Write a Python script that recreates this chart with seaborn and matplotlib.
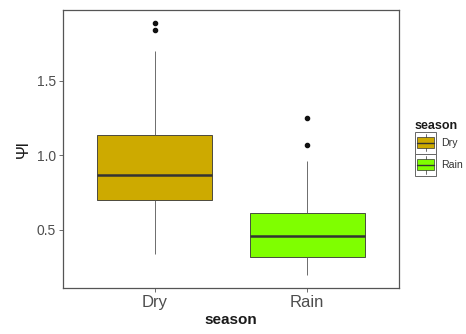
import matplotlib
matplotlib.use("Agg")
import matplotlib.pyplot as plt
from matplotlib.legend_handler import HandlerBase
from matplotlib.patches import Rectangle
from matplotlib.lines import Line2D
import seaborn as sns
import pandas as pd

# Water potential observations per season
seasons = ["Dry", "Rain"]
dry_psi = [0.34, 0.52, 0.63, 0.70, 0.76, 0.82, 0.866, 0.93, 1.04, 1.134, 1.697, 1.84, 1.89]
rain_psi = [0.196, 0.25, 0.29, 0.319, 0.37, 0.42, 0.462, 0.51, 0.57, 0.612, 0.96, 1.069, 1.253]
season_colors = {"Dry": "#CDAA00", "Rain": "#7FFF00"}
y_ticks = [0.5, 1.0, 1.5]

df = pd.DataFrame({
    "season": ["Dry"] * len(dry_psi) + ["Rain"] * len(rain_psi),
    "psi": dry_psi + rain_psi,
})

sns.set_style("white")
plt.rcParams["font.family"] = ["Liberation Sans", "DejaVu Sans"]

fig = plt.figure(figsize=(4.66, 3.34), dpi=100)
ax = fig.add_axes([0.135, 0.138, 0.721, 0.832])

edge = "#333333"
sns.boxplot(
    data=df, x="season", y="psi", hue="season", order=seasons,
    palette=season_colors, saturation=1, width=0.75, legend=False, ax=ax,
    linecolor=edge, linewidth=0.6,
    medianprops=dict(color=edge, linewidth=1.8),
    whiskerprops=dict(color="#555555", linewidth=0.6),
    capprops=dict(linewidth=0),
    flierprops=dict(marker="o", markersize=3.0, markerfacecolor="#111111",
                    markeredgecolor="#111111"),
)

ax.set_xlim(-0.6, 1.6)
ax.set_ylim(0.111, 1.975)
ax.set_yticks(y_ticks)
ax.set_yticklabels([f"{v:.1f}" for v in y_ticks])

for s in ax.spines.values():
    s.set_color("#555555")
    s.set_linewidth(0.9)

ax.tick_params(axis="both", which="both", direction="out", length=3, width=0.6,
               color="#555555", left=True, bottom=True)
ax.tick_params(axis="x", labelsize=12, labelcolor="#4D4D4D", pad=2)
ax.tick_params(axis="y", labelsize=10, labelcolor="#4D4D4D", pad=2)

ax.set_xlabel("season", fontsize=11, fontweight="bold", color="#1A1A1A", labelpad=2)
ax.set_ylabel("Ψl", fontsize=12, color="#1A1A1A", labelpad=4)


class BoxKeyHandler(HandlerBase):
    def create_artists(self, legend, orig_handle, xdescent, ydescent,
                       width, height, fontsize, trans):
        fc = orig_handle.get_facecolor()
        x0, y0 = -xdescent, -ydescent
        frame = Rectangle((x0, y0), width, height,
                          facecolor="white", edgecolor="#666666", lw=0.7,
                          transform=trans)
        cx = x0 + width / 2
        whisker = Line2D([cx, cx], [y0 + 0.1 * height, y0 + 0.9 * height],
                         color="#555555", lw=0.6, transform=trans)
        box = Rectangle((x0 + 0.12 * width, y0 + 0.25 * height),
                        0.76 * width, 0.5 * height, facecolor=fc,
                        edgecolor=edge, lw=0.5, transform=trans)
        med = Line2D([x0 + 0.12 * width, x0 + 0.88 * width],
                     [y0 + 0.5 * height] * 2, color=edge, lw=1.0,
                     transform=trans)
        return [frame, whisker, box, med]


handles = [Rectangle((0, 0), 1, 1, facecolor=season_colors[s]) for s in seasons]
leg = fig.legend(
    handles, seasons, handler_map={Rectangle: BoxKeyHandler()},
    title="season", loc="upper left", bbox_to_anchor=(0.890, 0.642),
    frameon=False, fontsize=7.6, handlelength=2.05, handleheight=2.85,
    handletextpad=0.45, labelspacing=0.0, borderaxespad=0, borderpad=0,
)
leg.get_title().set_fontsize(9)
leg.get_title().set_fontweight("bold")
leg.get_title().set_color("#1A1A1A")
leg._legend_box.align = "left"
for t in leg.get_texts():
    t.set_color("#333333")

fig.savefig("out.png", dpi=100)
